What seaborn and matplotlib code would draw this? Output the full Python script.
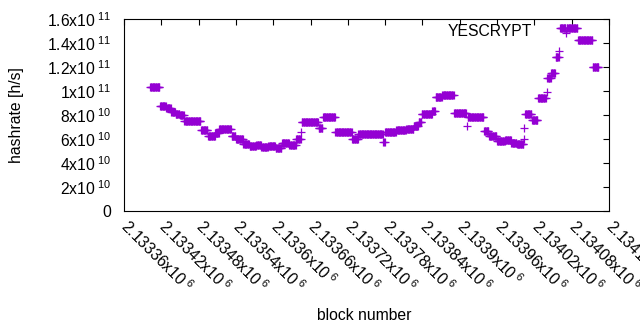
import numpy as np
import pandas as pd
import matplotlib
matplotlib.use("Agg")
import matplotlib.pyplot as plt
import matplotlib.transforms as mtransforms
import seaborn as sns

# runs of blocks that share the same hashrate estimate
seg_first = [2133402, 2133418, 2133428, 2133436, 2133443, 2133450, 2133457, 2133484,
             2133495, 2133507, 2133513, 2133533, 2133540, 2133552, 2133562, 2133573,
             2133581, 2133592, 2133604, 2133614, 2133626, 2133637, 2133645, 2133646,
             2133673, 2133680, 2133700, 2133727, 2133737, 2133777, 2133780, 2133798,
             2133814, 2133826, 2133834, 2133839, 2133856, 2133861, 2133872, 2133891,
             2133911, 2133913, 2133939, 2133947, 2133960, 2133973, 2133983, 2133992,
             2134003, 2134004, 2134005, 2134016, 2134026, 2134040, 2134041, 2134047,
             2134054, 2134060, 2134061, 2134071, 2134072, 2134090, 2134114]
seg_count = [16, 10, 8, 7, 7, 7, 27, 11,
             12, 6, 20, 7, 12, 10, 11, 8,
             11, 12, 10, 12, 11, 8, 1, 27,
             7, 20, 27, 10, 40, 3, 18, 16,
             12, 8, 5, 17, 5, 11, 19, 20,
             1, 26, 8, 13, 13, 10, 9, 11,
             1, 1, 11, 10, 13, 1, 6, 7,
             6, 1, 10, 1, 18, 24, 10]
seg_rate = [1.03e11, 8.72e10, 8.56e10, 8.27e10, 8.07e10, 7.96e10, 7.46e10, 6.71e10,
            6.21e10, 6.50e10, 6.87e10, 6.25e10, 6.04e10, 5.58e10, 5.42e10, 5.48e10,
            5.33e10, 5.42e10, 5.22e10, 5.64e10, 5.46e10, 6.00e10, 6.56e10, 7.39e10,
            6.89e10, 7.81e10, 6.56e10, 5.97e10, 6.40e10, 5.79e10, 6.62e10, 6.75e10,
            6.87e10, 7.08e10, 7.44e10, 8.08e10, 8.31e10, 9.53e10, 9.64e10, 8.14e10,
            7.08e10, 7.82e10, 6.64e10, 6.25e10, 5.86e10, 5.89e10, 5.69e10, 5.61e10,
            5.97e10, 6.89e10, 8.12e10, 7.56e10, 9.39e10, 9.89e10, 1.11e11, 1.154e11,
            1.287e11, 1.333e11, 1.522e11, 1.481e11, 1.522e11, 1.422e11, 1.197e11]

x_ticks = [2133360, 2133420, 2133480, 2133540, 2133600, 2133660, 2133720,
           2133780, 2133840, 2133900, 2133960, 2134020, 2134080, 2134140]
x_labels = ["2.13336", "2.13342", "2.13348", "2.13354", "2.1336", "2.13366", "2.13372",
            "2.13378", "2.13384", "2.1339", "2.13396", "2.13402", "2.13408", "2.13414"]
y_ticks = [0, 2e10, 4e10, 6e10, 8e10, 1e11, 1.2e11, 1.4e11, 1.6e11]
y_mant = ["0", "2", "4", "6", "8", "1", "1.2", "1.4", "1.6"]
y_exp = ["", "10", "10", "10", "10", "11", "11", "11", "11"]

blocks = np.concatenate([np.arange(f, f + n) for f, n in zip(seg_first, seg_count)])
rates = np.repeat(seg_rate, seg_count)
df = pd.DataFrame({"block": blocks, "rate": rates})

sns.set_style("white")
plt.rcParams["font.family"] = ["Liberation Sans", "DejaVu Sans"]
plt.rcParams["mathtext.fontset"] = "custom"
plt.rcParams["mathtext.rm"] = "Liberation Sans"
plt.rcParams["mathtext.it"] = "Liberation Sans"
plt.rcParams["mathtext.bf"] = "Liberation Sans"

fig = plt.figure(figsize=(6.4, 3.3), dpi=100)
ax = fig.add_axes([124 / 640, 1 - 211 / 330, 485 / 640, 192 / 330])

sns.scatterplot(data=df, x="block", y="rate", marker="+", s=26, linewidth=0.9,
                color="#9400d3", ax=ax, legend=False)

ax.set_xlim(x_ticks[0], x_ticks[-1])
ax.set_ylim(0, 1.6e11)

ax.set_xticks(x_ticks)
ax.set_xticklabels([l + r"x10$^{\ 6}$" for l in x_labels], rotation=-45,
                   ha="left", va="top", rotation_mode="anchor", fontsize=11.3)
ax.set_yticks(y_ticks)
ax.set_yticklabels([m if e == "" else m + r"x10$^{\ " + e + "}$" for m, e in zip(y_mant, y_exp)],
                   fontsize=11.3)

ax.tick_params(direction="in", length=4, width=0.8, top=True, right=True,
               color="black", labelcolor="black")
ax.tick_params(axis="y", pad=9)
ax.tick_params(axis="x", pad=5)
# gnuplot puts the rotated labels starting right at the tick
shift = mtransforms.ScaledTranslation(7 / 100, 1 / 100, fig.dpi_scale_trans)
for lab in ax.get_xticklabels():
    lab.set_transform(lab.get_transform() + shift)
for sp in ax.spines.values():
    sp.set_visible(True)
    sp.set_color("black")
    sp.set_linewidth(0.8)

ax.set_xlabel("block number", fontsize=11.3, color="black")
ax.set_ylabel("hashrate [h/s]", fontsize=11.3, color="black")
ax.xaxis.set_label_coords((364 - 124) / 485, (211 - 315) / 192)
ax.yaxis.set_label_coords((17 - 124) / 485, 0.5)
ax.xaxis.label.set_va("center")
ax.yaxis.label.set_va("center")

ax.text((532 - 124) / 485, (211 - 31) / 192, "YESCRYPT", transform=ax.transAxes,
        ha="right", va="center", fontsize=11.3, color="black")

fig.savefig("out.png", dpi=100)
